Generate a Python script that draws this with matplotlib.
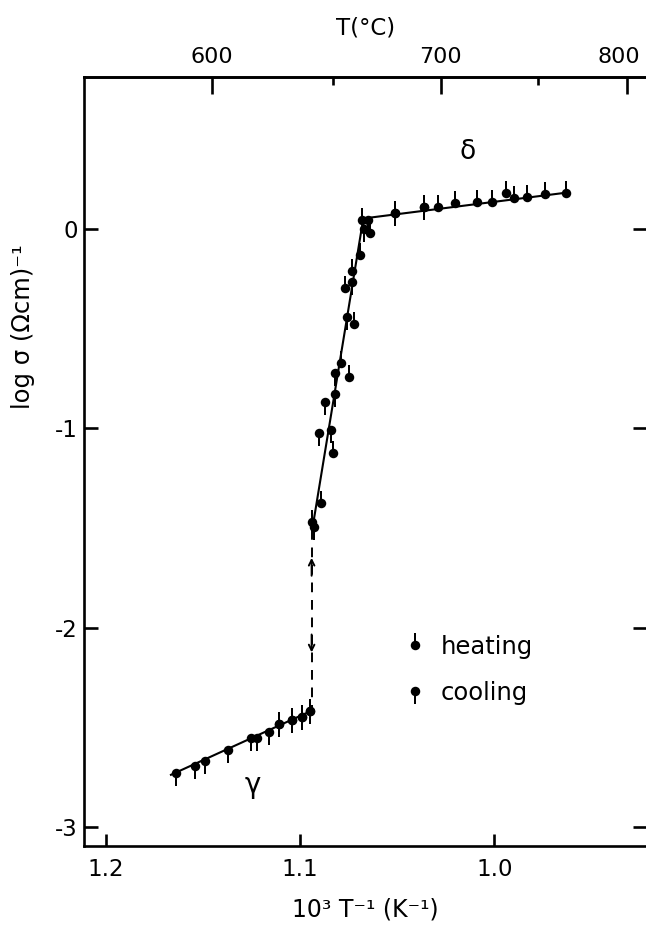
import numpy as np
import matplotlib
matplotlib.use("Agg")
import matplotlib.pyplot as plt
from matplotlib.path import Path
from matplotlib.lines import Line2D
from matplotlib.legend_handler import HandlerTuple
from matplotlib.transforms import ScaledTranslation

# ---- data: 10^3/T (K^-1) and log sigma ----
heat_x = [1.068, 1.064, 1.051, 1.036, 1.029, 1.020, 1.009, 1.001, 0.994, 0.990,
          0.983, 0.974, 0.963,
          1.069, 1.073, 1.077, 1.072, 1.079, 1.075, 1.083, 1.089, 1.094,
          1.111, 1.104, 1.099, 1.095]
heat_y = [0.048, -0.019, 0.081, 0.115, 0.115, 0.132, 0.137, 0.140, 0.182, 0.157,
          0.165, 0.178, 0.185,
          -0.128, -0.207, -0.296, -0.475, -0.672, -0.741, -1.122, -1.376, -1.468,
          -2.485, -2.465, -2.448, -2.420]

cool_x = [1.065, 1.067, 1.051, 1.036,
          1.073, 1.076, 1.082, 1.082, 1.087, 1.084, 1.090, 1.093,
          1.164, 1.154, 1.149, 1.137, 1.125, 1.122, 1.116, 1.111, 1.104, 1.099, 1.095]
cool_y = [0.048, 0.003, 0.081, 0.115,
          -0.262, -0.438, -0.723, -0.827, -0.868, -1.008, -1.024, -1.494,
          -2.729, -2.694, -2.671, -2.616, -2.557, -2.557, -2.524, -2.485, -2.465, -2.448, -2.420]

# fitted straight segments
gamma_fit_x = [1.1664, 1.0945]
gamma_fit_y = [-2.74, -2.42]
trans_fit_x = [1.0933, 1.0674]
trans_fit_y = [-1.485, 0.055]
delta_fit_x = [1.0674, 0.9627]
delta_fit_y = [0.055, 0.185]

# gamma -> delta jump
jump_x = [1.0940, 1.0940]
jump_y = [-1.51, -2.415]

x_ticks = [1.2, 1.1, 1.0]
x_ticklabels = ["1.2", "1.1", "1.0"]
y_ticks = [0, -1, -2, -3]
y_ticklabels = ["0", "-1", "-2", "-3"]
t_major = [600, 700, 800]
t_minor = [650, 750]

plt.rcParams['font.family'] = ['DejaVu Sans']

DPI = 100
FS = 16.5
fig = plt.figure(figsize=(6.46, 9.25), dpi=DPI)
ax = fig.add_axes([0.1308, 0.0849, 0.8707, 0.8319])


def stem_path(up=True, h=12.5, w=1.4):
    s = 1.0 if up else -1.0
    verts = [(-w, 0), (w, 0), (w, s * h), (-w, s * h), (-w, 0)]
    codes = [Path.MOVETO, Path.LINETO, Path.LINETO, Path.LINETO, Path.CLOSEPOLY]
    return Path(verts, codes)


px2pt = 72.0 / DPI
stem_ms = 25 * px2pt
dot_ms = 9.5 * px2pt
stem_up = stem_path(True)
stem_down = stem_path(False)

lw_line = 1.5
ax.plot(gamma_fit_x, gamma_fit_y, color='black', lw=lw_line, zorder=2)
ax.plot(trans_fit_x, trans_fit_y, color='black', lw=lw_line, zorder=2)
ax.plot(delta_fit_x, delta_fit_y, color='black', lw=lw_line, zorder=2)
ax.plot(jump_x, jump_y, color='black', lw=1.4, ls=(0, (5, 4)), zorder=2)

# arrows on the dashed jump line
ax.annotate('', xy=(jump_x[0], -1.650), xytext=(jump_x[0], -1.740),
            arrowprops=dict(arrowstyle='->,head_length=0.4,head_width=0.2',
                            lw=1.4, color='black', shrinkA=0, shrinkB=0))
ax.annotate('', xy=(jump_x[0], -2.125), xytext=(jump_x[0], -2.035),
            arrowprops=dict(arrowstyle='->,head_length=0.4,head_width=0.2',
                            lw=1.4, color='black', shrinkA=0, shrinkB=0))

# heating: dot with stem above; cooling: dot with stem below
ax.plot(heat_x, heat_y, ls='none', marker=stem_up, ms=stem_ms,
        mfc='black', mec='black', mew=0, zorder=3)
ax.plot(heat_x, heat_y, ls='none', marker='o', ms=dot_ms,
        mfc='black', mec='black', mew=0, zorder=3)
ax.plot(cool_x, cool_y, ls='none', marker=stem_down, ms=stem_ms,
        mfc='black', mec='black', mew=0, zorder=3)
ax.plot(cool_x, cool_y, ls='none', marker='o', ms=dot_ms,
        mfc='black', mec='black', mew=0, zorder=3)

ax.text(1.0135, 0.389, 'δ', fontsize=19, ha='center', va='center')
ax.text(1.1242, -2.791, 'γ', fontsize=20, ha='center', va='center')

ax.set_xlim(1.2109, 0.9214)
ax.set_ylim(-3.100, 0.766)

ax.set_xticks(x_ticks)
ax.set_xticklabels(x_ticklabels)
ax.set_yticks(y_ticks)
ax.set_yticklabels(y_ticklabels)

for sp in ax.spines.values():
    sp.set_linewidth(1.9)

ax.tick_params(axis='x', direction='in', length=9, width=1.9, labelsize=FS, pad=8)
ax.tick_params(axis='y', direction='in', length=10, width=1.9, labelsize=FS,
               right=True, pad=5)

ax.set_xlabel('10³ T⁻¹ (K⁻¹)', fontsize=17, labelpad=12)
ax.set_ylabel('log σ (Ωcm)⁻¹', fontsize=17.5)
ax.yaxis.set_label_coords(-0.088, 0.675)


def inv_to_c(v):
    v = np.asarray(v, dtype=float)
    with np.errstate(divide='ignore', invalid='ignore'):
        return np.where(v > 0, 1000.0 / np.where(v > 0, v, 1.0) - 273.15, 1e9)


def c_to_inv(t):
    t = np.asarray(t, dtype=float)
    with np.errstate(divide='ignore', invalid='ignore'):
        k = t + 273.15
        return np.where(k > 0, 1000.0 / np.where(k > 0, k, 1.0), 1e9)


secax = ax.secondary_xaxis('top', functions=(inv_to_c, c_to_inv))
secax.set_xticks(t_major)
secax.set_xticks(t_minor, minor=True)
secax.set_xticklabels([str(t) for t in t_major])
secax.tick_params(which='major', direction='in', length=12, width=1.9,
                  labelsize=16, pad=7)
secax.tick_params(which='minor', direction='in', length=6, width=1.9)
secax.spines['top'].set_linewidth(1.9)
secax.set_xlabel('T(°C)', fontsize=FS, labelpad=9)

# keep the last top label inside the figure edge
last_lbl = secax.get_xticklabels()[-1]
last_lbl.set_transform(last_lbl.get_transform()
                       + ScaledTranslation(-6 / 72.0, 0, fig.dpi_scale_trans))

h_handle = (Line2D([], [], ls='none', marker=stem_up, ms=stem_ms, mfc='black', mew=0),
            Line2D([], [], ls='none', marker='o', ms=dot_ms, mfc='black', mew=0))
c_handle = (Line2D([], [], ls='none', marker=stem_down, ms=stem_ms, mfc='black', mew=0),
            Line2D([], [], ls='none', marker='o', ms=dot_ms, mfc='black', mew=0))
ax.legend([h_handle, c_handle], ['heating', 'cooling'],
          handler_map={tuple: HandlerTuple(ndivide=1, pad=0)},
          loc='upper left', bbox_to_anchor=(0.571, 0.275), frameon=False,
          fontsize=17.5, handlelength=0.8, handletextpad=0.65, labelspacing=0.9,
          borderaxespad=0, borderpad=0)

fig.savefig('out.png', dpi=DPI)
